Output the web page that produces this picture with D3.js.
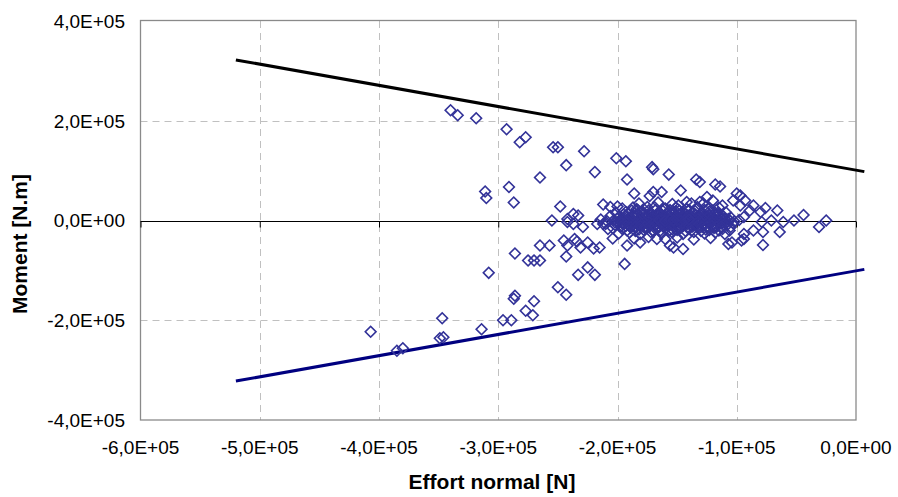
<!DOCTYPE html>
<html><head><meta charset="utf-8">
<script src="https://cdn.jsdelivr.net/npm/d3@7"></script>
<style>body{margin:0;background:#fff}svg{display:block}</style>
</head><body><svg id="c" width="898" height="497"></svg>
<script>
// ---- data ----
const xTicks = [-6e5, -5e5, -4e5, -3e5, -2e5, -1e5, 0];
const xTickLabels = ["-6,0E+05", "-5,0E+05", "-4,0E+05", "-3,0E+05", "-2,0E+05", "-1,0E+05", "0,0E+00"];
const yTicks = [4e5, 2e5, 0, -2e5, -4e5];
const yTickLabels = ["4,0E+05", "2,0E+05", "0,0E+00", "-2,0E+05", "-4,0E+05"];
const xTitle = "Effort normal [N]";
const yTitle = "Moment [N.m]";

// interaction limit lines (N, M)
const limitN = [-5.2e5, 0.07e5];
const limitUpper = [3.22e5, 0.98e5];
const limitLower = [-3.22e5, -0.98e5];

// scatter points [N, M]
const upperPoints = [
 [-3.40e5,2.21e5],[-3.34e5,2.11e5],[-3.185e5,2.05e5],[-2.93e5,1.83e5],[-2.82e5,1.57e5],[-2.77e5,1.67e5],
 [-2.54e5,1.47e5],[-2.50e5,1.47e5],[-2.28e5,1.39e5],[-2.43e5,1.11e5],[-2.19e5,0.97e5],[-2.65e5,0.86e5],
 [-2.01e5,1.25e5],[-1.93e5,1.19e5],[-1.92e5,0.82e5],[-3.11e5,0.58e5],[-3.10e5,0.45e5],[-2.91e5,0.67e5],
 [-2.87e5,0.36e5],[-2.48e5,0.28e5],[-2.12e5,0.32e5],[-2.00e5,0.28e5],[-1.71e5,1.07e5],[-1.70e5,1.03e5],
 [-1.57e5,0.92e5],[-1.86e5,0.54e5],[-1.70e5,0.57e5],[-1.73e5,0.49e5],[-1.63e5,0.57e5],[-1.47e5,0.60e5],
 [-1.34e5,0.82e5],[-1.31e5,0.77e5],[-1.18e5,0.72e5],[-1.14e5,0.68e5],[-1.00e5,0.54e5],[-0.97e5,0.50e5],
 [-0.93e5,0.40e5],[-0.86e5,0.30e5],[-0.76e5,0.25e5],[-0.66e5,0.20e5],[-0.80e5,0.17e5],[-0.89e5,0.20e5],
 [-0.97e5,0.30e5],[-1.03e5,0.40e5],[-1.12e5,0.30e5],[-1.20e5,0.40e5],[-1.25e5,0.47e5],[-1.84e5,0.23e5],
 [-1.75e5,0.27e5],[-1.61e5,0.23e5],[-1.49e5,0.30e5],[-1.38e5,0.34e5],[-1.31e5,0.37e5],[-2.06e5,0.27e5],
 [-2.37e5,0.13e5],[-2.33e5,0.10e5],[-0.44e5,0.11e5]
];
const lowerPoints = [
 [-2.86e5,-0.66e5],[-2.65e5,-0.50e5],[-2.57e5,-0.50e5],[-2.75e5,-0.80e5],[-2.70e5,-0.80e5],[-2.65e5,-0.80e5],
 [-2.43e5,-0.72e5],[-2.42e5,-0.50e5],[-2.34e5,-0.42e5],[-3.08e5,-1.05e5],[-2.50e5,-1.34e5],[-2.43e5,-1.49e5],
 [-2.33e5,-1.09e5],[-2.25e5,-0.94e5],[-2.19e5,-1.09e5],[-1.94e5,-0.87e5],[-2.87e5,-1.57e5],[-2.86e5,-1.51e5],
 [-2.70e5,-1.62e5],[-2.77e5,-1.81e5],[-2.71e5,-1.90e5],[-2.96e5,-2.00e5],[-2.89e5,-2.00e5],[-3.14e5,-2.18e5],
 [-3.47e5,-1.96e5],[-3.49e5,-2.36e5],[-3.46e5,-2.34e5],[-3.85e5,-2.61e5],[-3.80e5,-2.56e5],[-4.07e5,-2.23e5],
 [-2.45e5,-0.40e5],[-2.36e5,-0.37e5],[-2.31e5,-0.54e5],[-2.25e5,-0.44e5],[-2.20e5,-0.56e5],[-2.15e5,-0.54e5],
 [-2.04e5,-0.36e5],[-1.92e5,-0.50e5],[-1.81e5,-0.44e5],[-1.67e5,-0.37e5],[-1.56e5,-0.50e5],[-1.45e5,-0.57e5],
 [-1.53e5,-0.54e5],[-1.07e5,-0.47e5],[-0.94e5,-0.37e5],[-0.78e5,-0.49e5],[-0.96e5,-0.40e5],[-1.04e5,-0.44e5],
 [-0.64e5,-0.23e5],[-0.78e5,-0.23e5],[-0.86e5,-0.20e5],[-0.94e5,-0.27e5],[-1.06e5,-0.20e5],[-0.31e5,-0.13e5]
];
const tailPoints = [
 [-2.55e5,0.00e5],[-2.42e5,0.03e5],[-2.42e5,-0.03e5],[-2.37e5,-0.07e5],[-2.29e5,-0.13e5],[-2.17e5,-0.07e5],
 [-2.12e5,-0.07e5],[-2.08e5,-0.17e5],[-0.94e5,0.07e5],[-0.79e5,-0.03e5],[-0.71e5,0.00e5],[-0.61e5,-0.03e5],
 [-0.52e5,0.00e5],[-0.25e5,0.00e5]
];
const corePoints = [
 [-2.14e5,0.02e5],[-2.09e5,-0.01e5],[-2.03e5,0.01e5],[-1.98e5,-0.02e5],[-1.94e5,0.01e5],[-1.90e5,0.00e5],
 [-1.86e5,-0.02e5],[-1.82e5,0.02e5],[-1.78e5,-0.01e5],[-1.74e5,0.01e5],[-1.70e5,-0.02e5],[-1.66e5,0.02e5],
 [-1.62e5,0.00e5],[-1.58e5,-0.02e5],[-1.55e5,0.01e5],[-1.52e5,0.00e5],[-1.49e5,-0.01e5],[-1.46e5,0.02e5],
 [-1.42e5,-0.02e5],[-1.38e5,0.01e5],[-1.34e5,-0.01e5],[-1.30e5,0.02e5],[-1.26e5,0.00e5],[-1.22e5,-0.02e5],
 [-1.18e5,0.01e5],[-1.14e5,-0.01e5],[-1.10e5,0.02e5],[-1.06e5,0.00e5],[-1.02e5,-0.02e5],[-0.98e5,0.01e5],
 [-2.06e5,0.09e5],[-1.99e5,0.07e5],[-1.93e5,0.10e5],[-1.87e5,0.08e5],[-1.81e5,0.06e5],[-1.76e5,0.09e5],
 [-1.71e5,0.07e5],[-1.66e5,0.10e5],[-1.61e5,0.08e5],[-1.56e5,0.06e5],[-1.51e5,0.09e5],[-1.46e5,0.07e5],
 [-1.41e5,0.10e5],[-1.36e5,0.08e5],[-1.31e5,0.06e5],[-1.26e5,0.09e5],[-1.21e5,0.07e5],[-1.16e5,0.10e5],
 [-1.11e5,0.08e5],[-1.05e5,0.06e5],
 [-2.10e5,-0.07e5],[-2.02e5,-0.09e5],[-1.96e5,-0.06e5],[-1.90e5,-0.09e5],[-1.84e5,-0.07e5],[-1.79e5,-0.10e5],
 [-1.73e5,-0.06e5],[-1.68e5,-0.09e5],[-1.63e5,-0.07e5],[-1.58e5,-0.10e5],[-1.53e5,-0.06e5],[-1.48e5,-0.09e5],
 [-1.43e5,-0.07e5],[-1.38e5,-0.10e5],[-1.33e5,-0.06e5],[-1.28e5,-0.09e5],[-1.23e5,-0.07e5],[-1.18e5,-0.10e5],
 [-1.13e5,-0.06e5],[-1.08e5,-0.09e5],[-1.03e5,-0.05e5],
 [-2.01e5,0.15e5],[-1.93e5,0.17e5],[-1.86e5,0.14e5],[-1.79e5,0.18e5],[-1.72e5,0.15e5],[-1.65e5,0.17e5],
 [-1.58e5,0.14e5],[-1.51e5,0.18e5],[-1.44e5,0.15e5],[-1.37e5,0.17e5],[-1.30e5,0.14e5],[-1.23e5,0.18e5],
 [-1.16e5,0.15e5],[-1.09e5,0.16e5],
 [-2.04e5,-0.15e5],[-1.96e5,-0.17e5],[-1.89e5,-0.14e5],[-1.82e5,-0.18e5],[-1.75e5,-0.15e5],[-1.68e5,-0.17e5],
 [-1.61e5,-0.14e5],[-1.54e5,-0.18e5],[-1.47e5,-0.15e5],[-1.40e5,-0.17e5],[-1.33e5,-0.14e5],[-1.26e5,-0.18e5],
 [-1.19e5,-0.15e5],[-1.12e5,-0.17e5],[-1.05e5,-0.13e5],
 [-1.96e5,0.24e5],[-1.87e5,0.26e5],[-1.78e5,0.23e5],[-1.69e5,0.27e5],[-1.60e5,0.24e5],[-1.51e5,0.26e5],
 [-1.42e5,0.23e5],[-1.33e5,0.27e5],[-1.24e5,0.24e5],[-1.15e5,0.26e5],
 [-1.99e5,-0.26e5],[-1.90e5,-0.24e5],[-1.81e5,-0.27e5],[-1.72e5,-0.23e5],[-1.63e5,-0.26e5],[-1.54e5,-0.24e5],
 [-1.45e5,-0.27e5],[-1.36e5,-0.23e5],[-1.27e5,-0.26e5],[-1.18e5,-0.24e5],[-1.10e5,-0.27e5],
 [-1.82e5,0.34e5],[-1.66e5,0.36e5],[-1.54e5,0.33e5],[-1.42e5,0.37e5],[-1.28e5,0.34e5],
 [-1.86e5,-0.36e5],[-1.74e5,-0.33e5],[-1.60e5,-0.37e5],[-1.50e5,-0.34e5],[-1.36e5,-0.38e5],[-1.22e5,-0.35e5]
];
// densest centre of the cloud
const densePoints = [
 [-2.00e5,0.04e5],[-1.97e5,0.03e5],[-1.94e5,0.05e5],[-1.91e5,0.04e5],[-1.88e5,0.03e5],[-1.85e5,0.05e5],
 [-1.82e5,0.04e5],[-1.79e5,0.03e5],[-1.76e5,0.05e5],[-1.73e5,0.04e5],[-1.70e5,0.03e5],[-1.67e5,0.05e5],
 [-1.64e5,0.04e5],[-1.61e5,0.03e5],[-1.58e5,0.05e5],[-1.55e5,0.04e5],[-1.52e5,0.03e5],[-1.49e5,0.05e5],
 [-1.46e5,0.04e5],[-1.43e5,0.03e5],[-1.40e5,0.05e5],[-1.37e5,0.04e5],[-1.34e5,0.03e5],[-1.31e5,0.05e5],
 [-1.28e5,0.04e5],[-1.25e5,0.03e5],[-1.22e5,0.05e5],[-1.19e5,0.04e5],[-1.16e5,0.03e5],[-1.13e5,0.05e5],
 [-1.10e5,0.04e5],[-1.07e5,0.03e5],
 [-2.02e5,-0.04e5],[-1.99e5,-0.05e5],[-1.96e5,-0.03e5],[-1.93e5,-0.04e5],[-1.90e5,-0.05e5],[-1.87e5,-0.03e5],
 [-1.84e5,-0.04e5],[-1.81e5,-0.05e5],[-1.78e5,-0.03e5],[-1.75e5,-0.04e5],[-1.72e5,-0.05e5],[-1.69e5,-0.03e5],
 [-1.66e5,-0.04e5],[-1.63e5,-0.05e5],[-1.60e5,-0.03e5],[-1.57e5,-0.04e5],[-1.54e5,-0.05e5],[-1.51e5,-0.03e5],
 [-1.48e5,-0.04e5],[-1.45e5,-0.05e5],[-1.42e5,-0.03e5],[-1.39e5,-0.04e5],[-1.36e5,-0.05e5],[-1.33e5,-0.03e5],
 [-1.30e5,-0.04e5],[-1.27e5,-0.05e5],[-1.24e5,-0.03e5],[-1.21e5,-0.04e5],[-1.18e5,-0.05e5],[-1.15e5,-0.03e5],
 [-1.12e5,-0.04e5],[-1.09e5,-0.05e5],
 [-1.95e5,0.12e5],[-1.91e5,0.13e5],[-1.87e5,0.11e5],[-1.83e5,0.12e5],[-1.79e5,0.13e5],[-1.75e5,0.11e5],
 [-1.71e5,0.12e5],[-1.67e5,0.13e5],[-1.63e5,0.11e5],[-1.59e5,0.12e5],[-1.55e5,0.13e5],[-1.51e5,0.11e5],
 [-1.47e5,0.12e5],[-1.43e5,0.13e5],[-1.39e5,0.11e5],[-1.35e5,0.12e5],[-1.31e5,0.13e5],[-1.27e5,0.11e5],
 [-1.23e5,0.12e5],[-1.19e5,0.13e5],[-1.15e5,0.11e5],
 [-1.97e5,-0.12e5],[-1.93e5,-0.11e5],[-1.89e5,-0.13e5],[-1.85e5,-0.12e5],[-1.81e5,-0.11e5],[-1.77e5,-0.13e5],
 [-1.73e5,-0.12e5],[-1.69e5,-0.11e5],[-1.65e5,-0.13e5],[-1.61e5,-0.12e5],[-1.57e5,-0.11e5],[-1.53e5,-0.13e5],
 [-1.49e5,-0.12e5],[-1.45e5,-0.11e5],[-1.41e5,-0.13e5],[-1.37e5,-0.12e5],[-1.33e5,-0.11e5],[-1.29e5,-0.13e5],
 [-1.25e5,-0.12e5],[-1.21e5,-0.11e5],[-1.17e5,-0.13e5],[-1.13e5,-0.12e5],
 [-1.88e5,0.20e5],[-1.83e5,0.21e5],[-1.74e5,0.20e5],[-1.68e5,0.21e5],[-1.62e5,0.19e5],[-1.56e5,0.21e5],
 [-1.48e5,0.20e5],[-1.40e5,0.21e5],[-1.35e5,0.19e5],[-1.27e5,0.21e5],[-1.20e5,0.20e5],
 [-1.92e5,-0.20e5],[-1.85e5,-0.21e5],[-1.78e5,-0.19e5],[-1.70e5,-0.21e5],[-1.64e5,-0.20e5],[-1.57e5,-0.21e5],
 [-1.50e5,-0.19e5],[-1.43e5,-0.21e5],[-1.38e5,-0.20e5],[-1.30e5,-0.21e5],[-1.23e5,-0.19e5],[-1.15e5,-0.20e5],
 [-1.65e5,0.01e5],[-1.60e5,-0.01e5],[-1.56e5,0.02e5],[-1.53e5,-0.02e5],[-1.50e5,0.01e5],[-1.47e5,-0.01e5],
 [-1.44e5,0.00e5],[-1.40e5,0.02e5],[-1.53e5,0.00e5]
];

// ---- drawing ----
const svg = d3.select("#c");
const L = 140.5, R = 856, T = 21, B = 420;
const x = d3.scaleLinear().domain([-6e5, 0]).range([L, R]);
const y = d3.scaleLinear().domain([-4e5, 4e5]).range([B, T]);
const font = "'Liberation Sans', Arial, sans-serif";

// grid
const g = svg.append("g");
g.selectAll("line.vg").data(xTicks.slice(1, -1)).join("line")
  .attr("x1", d => Math.round(x(d)) + 0.5).attr("x2", d => Math.round(x(d)) + 0.5)
  .attr("y1", T).attr("y2", B)
  .attr("stroke", "#c0c0c0").attr("stroke-width", 1).attr("stroke-dasharray", "7,5");
g.selectAll("line.hg").data(yTicks.filter(d => d !== 0 && Math.abs(d) < 4e5)).join("line")
  .attr("x1", L).attr("x2", R)
  .attr("y1", d => Math.round(y(d)) + 0.5).attr("y2", d => Math.round(y(d)) + 0.5)
  .attr("stroke", "#c0c0c0").attr("stroke-width", 1).attr("stroke-dasharray", "7,5");

// plot frame
svg.append("rect").attr("x", L).attr("y", T - 0.5).attr("width", R - L).attr("height", B - T + 0.5)
  .attr("fill", "none").attr("stroke", "#8a8a8a").attr("stroke-width", 1.3);

// zero axis with ticks
const y0 = Math.round(y(0)) + 0.5;
const xAxis = d3.axisBottom(x).tickValues(xTicks).tickSize(6).tickFormat("");
const ax = svg.append("g").attr("transform", `translate(0,${y0})`).call(xAxis);
ax.select(".domain").attr("stroke", "#000").attr("d", `M${L},0H${R}`);
ax.selectAll(".tick line").attr("stroke", "#000");

// limit lines
const line = d3.line().x(d => x(d[0])).y(d => y(d[1]));
svg.append("path").datum(limitN.map((n, i) => [n, limitUpper[i]])).attr("d", line)
  .attr("stroke", "#000").attr("stroke-width", 3).attr("fill", "none");
svg.append("path").datum(limitN.map((n, i) => [n, limitLower[i]])).attr("d", line)
  .attr("stroke", "#000080").attr("stroke-width", 3).attr("fill", "none");

// points
const allPoints = upperPoints.concat(lowerPoints, tailPoints, corePoints, densePoints);
svg.append("g").selectAll("path").data(allPoints).join("path")
  .attr("transform", d => `translate(${x(d[0])},${y(d[1])}) rotate(45)`)
  .attr("d", d3.symbol().type(d3.symbolSquare).size(58))
  .attr("fill", "none").attr("stroke", "#333399").attr("stroke-width", 1.6);

// tick labels
svg.append("g").selectAll("text").data(xTicks).join("text")
  .attr("x", d => x(d)).attr("y", 454).attr("text-anchor", "middle")
  .attr("font-family", font).attr("font-size", 19).attr("fill", "#000")
  .text((d, i) => xTickLabels[i]);
svg.append("g").selectAll("text").data(yTicks).join("text")
  .attr("x", 125).attr("y", d => y(d)).attr("dy", "0.36em").attr("text-anchor", "end")
  .attr("font-family", font).attr("font-size", 19).attr("fill", "#000")
  .text((d, i) => yTickLabels[i]);

// titles
svg.append("text").attr("x", 492).attr("y", 489).attr("text-anchor", "middle")
  .attr("font-family", font).attr("font-size", 21).attr("font-weight", "bold").text(xTitle);
svg.append("text").attr("transform", "translate(27,244) rotate(-90)").attr("text-anchor", "middle")
  .attr("font-family", font).attr("font-size", 21).attr("font-weight", "bold").text(yTitle);
</script></body></html>
